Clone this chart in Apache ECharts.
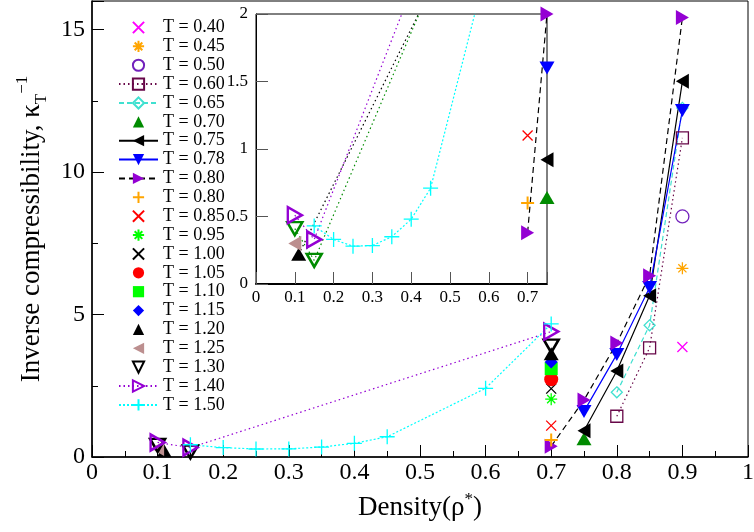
<!DOCTYPE html>
<html>
<head>
<meta charset="utf-8">
<script src="https://cdn.jsdelivr.net/npm/echarts@6/dist/echarts.min.js"></script>
<style>html,body{margin:0;padding:0;background:#fff;}#c{width:754px;height:532px;}</style>
</head>
<body>
<div id="c"></div>
<script>
// ---- data (density, inverse compressibility) ----
const T040 = [[0.90, 3.86]];
const T045 = [[0.90, 6.62]];
const T050 = [[0.90, 8.44]];
const T060 = [[0.80, 1.43], [0.85, 3.83], [0.90, 11.20]];
const T065 = [[0.80, 2.27], [0.85, 4.62], [0.90, 12.25]];
const T070 = [[0.75, 0.64]];
const T075 = [[0.75, 0.92], [0.80, 3.02], [0.85, 5.66], [0.90, 13.18]];
const T078 = [[0.75, 1.60], [0.80, 3.60], [0.85, 5.95], [0.90, 12.16]];
const T080a = [[0.70, 0.38], [0.75, 2.00], [0.80, 4.00], [0.85, 6.36], [0.90, 15.42]];
const T080b = [[0.70, 0.60]];
const T085 = [[0.70, 1.10]];
const T095 = [[0.70, 2.03]];
const T100 = [[0.70, 2.40]];
const T105 = [[0.70, 2.73]];
const T110 = [[0.70, 3.10]];
const T115 = [[0.70, 3.33]];
const T120 = [[0.11, 0.22], [0.70, 3.62]];
const T125 = [[0.10, 0.30]];
const T130 = [[0.10, 0.41], [0.15, 0.175], [0.70, 3.89]];
const T140 = [[0.10, 0.51], [0.15, 0.33], [0.70, 4.40]];
const T150 = [[0.15, 0.43], [0.20, 0.33], [0.25, 0.28], [0.30, 0.285], [0.35, 0.35], [0.40, 0.48], [0.45, 0.71], [0.60, 2.41], [0.70, 4.67]];

const legendNames = ['T = 0.40','T = 0.45','T = 0.50','T = 0.60','T = 0.65','T = 0.70','T = 0.75','T = 0.78',
  'T = 0.80#a','T = 0.80#b','T = 0.85','T = 0.95','T = 1.00','T = 1.05','T = 1.10','T = 1.15','T = 1.20',
  'T = 1.25','T = 1.30','T = 1.40','T = 1.50'];

const FONT = '"Liberation Serif","Times New Roman",serif';
const SYM = {
  x: 'path://M0,0L10,10M10,0L0,10',
  plus: 'path://M5,0L5,10M0,5L10,5',
  star: 'path://M5,0L5,10M0,5L10,5M1.6,1.6L8.4,8.4M8.4,1.6L1.6,8.4',
  up: 'path://M5,0L10,9L0,9Z',
  down: 'path://M0,0L10,0L5,9Z',
  left: 'path://M0,5L9,0L9,10Z',
  right: 'path://M0,0L9,5L0,10Z',
  diamond: 'path://M5,0L10,5L5,10L0,5Z',
  circle: 'circle',
  square: 'rect'
};

const specs = [
  {name: legendNames[0], data: T040, sym: 'x', c: '#ff00ff', kind: 'open', size: [10, 10], bw: 1.3},
  {name: legendNames[1], data: T045, sym: 'star', c: '#ffa500', kind: 'open', size: [12, 12], bw: 1.3},
  {name: legendNames[2], data: T050, sym: 'circle', c: '#7221bc', kind: 'open', size: [13, 13], bw: 1.3},
  {name: legendNames[3], data: T060, sym: 'square', c: '#670748', kind: 'open', size: [12, 12], bw: 1.3, line: {color: '#670748', type: [1.5, 3]}},
  {name: legendNames[4], data: T065, sym: 'diamond', c: '#40e0d0', kind: 'open', size: [11, 11], bw: 1.3, line: {color: '#40e0d0', type: [5, 3]}},
  {name: legendNames[5], data: T070, sym: 'up', c: '#008b00', kind: 'fill', size: [15, 13]},
  {name: legendNames[6], data: T075, sym: 'left', c: '#000000', kind: 'fill', size: [13, 15], line: {color: '#000000', type: 'solid'}},
  {name: legendNames[7], data: T078, sym: 'down', c: '#0000ff', kind: 'fill', size: [15, 13], line: {color: '#0000ff', type: 'solid'}},
  {name: legendNames[8], data: T080a, sym: 'right', c: '#9400d3', kind: 'fill', size: [13, 15], line: {color: '#000000', type: [6, 4]}},
  {name: legendNames[9], data: T080b, sym: 'plus', c: '#ffa500', kind: 'open', size: [13, 13], bw: 2},
  {name: legendNames[10], data: T085, sym: 'x', c: '#ff0000', kind: 'open', size: [10, 10], bw: 1.3},
  {name: legendNames[11], data: T095, sym: 'star', c: '#00ff00', kind: 'open', size: [12, 12], bw: 1.3},
  {name: legendNames[12], data: T100, sym: 'x', c: '#000000', kind: 'open', size: [10, 10], bw: 1.3},
  {name: legendNames[13], data: T105, sym: 'circle', c: '#ff0000', kind: 'fill', size: [14, 14]},
  {name: legendNames[14], data: T110, sym: 'square', c: '#00ff00', kind: 'fill', size: [13, 13]},
  {name: legendNames[15], data: T115, sym: 'diamond', c: '#0000ff', kind: 'fill', size: [13, 13]},
  {name: legendNames[16], data: T120, sym: 'up', c: '#000000', kind: 'fill', size: [15, 13]},
  {name: legendNames[17], data: T125, sym: 'left', c: '#bc8f8f', kind: 'fill', size: [13, 15]},
  {name: legendNames[18], data: T130, sym: 'down', c: '#000000', kind: 'open', size: [15, 13], bw: 2.5},
  {name: legendNames[19], data: T140, sym: 'right', c: '#9400d3', kind: 'open', size: [14, 16], bw: 2.5, line: {color: '#9400d3', type: [1.5, 3]}},
  {name: legendNames[20], data: T150, sym: 'plus', c: '#00ffff', kind: 'open', size: [15, 15], bw: 1.3, line: {color: '#00ffff', type: [2, 2]}}
];

// inset-specific styling
const insetOverride = {
  'T = 0.75': {line: null},
  'T = 0.78': {line: null},
  'T = 1.20': {line: {color: '#000000', type: [1.5, 3]}},
  'T = 1.30': {c: '#008b00', line: {color: '#008b00', type: [1.5, 3]}}
};

function makeSeries(s, ax, prefix) {
  return {
    type: 'line',
    name: prefix + s.name,
    data: s.data,
    xAxisIndex: ax, yAxisIndex: ax,
    symbol: SYM[s.sym],
    symbolSize: s.size,
    showSymbol: true,
    silent: true,
    animation: false,
    clip: true,
    itemStyle: s.kind === 'fill'
      ? {color: s.c, borderWidth: 0}
      : {color: 'rgba(255,255,255,0)', borderColor: s.c, borderWidth: s.bw},
    lineStyle: s.line
      ? {color: s.line.color, width: 1.2, type: s.line.type}
      : {width: 0, opacity: 0},
    emphasis: {disabled: true}
  };
}

const mainSeries = specs.map(s => makeSeries(s, 0, ''));
const insetSeries = specs.map(s => makeSeries(Object.assign({}, s, insetOverride[s.name] || {}), 2, 'inset '));

const tickLab = {fontFamily: FONT, color: '#000'};
const chart = echarts.init(document.getElementById('c'), null, {renderer: 'canvas'});
chart.setOption({
  animation: false,
  backgroundColor: '#fff',
  grid: [
    {left: 92, right: 6, top: 1, bottom: 75, show: true, borderColor: '#000', borderWidth: 1, outerBoundsMode: 'none'},
    {left: 256, right: 207, top: 14, bottom: 248, show: true, borderColor: '#000', borderWidth: 1, backgroundColor: '#fff', outerBoundsMode: 'none'}
  ],
  legend: {
    data: legendNames,
    orient: 'vertical',
    left: 113, top: 13.5,
    itemWidth: 39, itemHeight: 14, itemGap: 0.87,
    selectedMode: false,
    formatter: n => n.replace(/#.*$/, ''),
    textStyle: {fontFamily: FONT, fontSize: 18, color: '#000'}
  },
  xAxis: [
    {gridIndex: 0, type: 'value', min: 0, max: 1, interval: 0.1, position: 'bottom',
     axisLine: {onZero: false, lineStyle: {color: '#000', width: 1.5}},
     axisTick: {inside: true, length: 12, lineStyle: {color: '#000'}},
     splitLine: {show: false},
     axisLabel: Object.assign({fontSize: 24, margin: 4}, tickLab),
     name: '{a|Density(ρ}{s|*}{a|)}', nameLocation: 'middle', nameGap: 34,
     nameTextStyle: {rich: {
       a: {fontFamily: FONT, fontSize: 27, color: '#000', lineHeight: 34},
       s: {fontFamily: FONT, fontSize: 17, color: '#000', lineHeight: 16, verticalAlign: 'top'}
     }}},
    {gridIndex: 0, type: 'value', min: 0, max: 1, interval: 0.05, position: 'bottom',
     axisLine: {show: false}, axisLabel: {show: false}, splitLine: {show: false},
     axisTick: {inside: true, length: 6, lineStyle: {color: '#000'}}},
    {gridIndex: 1, type: 'value', min: 0, max: 0.75, interval: 0.1, position: 'bottom',
     axisLine: {onZero: false, lineStyle: {color: '#000', width: 2}},
     axisTick: {inside: true, length: 12, lineStyle: {color: '#555'}},
     splitLine: {show: false},
     axisLabel: Object.assign({fontSize: 17, margin: 5,
       formatter: v => Math.abs(v * 10 - Math.round(v * 10)) < 1e-6 ? String(Number(v.toFixed(1))) : ''}, tickLab)}
  ],
  yAxis: [
    {gridIndex: 0, type: 'value', min: 0, max: 16, interval: 5, position: 'left',
     axisLine: {onZero: false, lineStyle: {color: '#000', width: 1.5}},
     axisTick: {inside: true, length: 12, lineStyle: {color: '#000'}},
     splitLine: {show: false},
     axisLabel: Object.assign({fontSize: 24, margin: 7, formatter: v => (v % 5 === 0 ? String(v) : '')}, tickLab),
     name: '{a|Inverse compressibility, κ}{b|T}{c|−1}', nameLocation: 'middle', nameGap: 29, nameRotate: 90,
     nameTextStyle: {rich: {
       a: {fontFamily: FONT, fontSize: 27, color: '#000', lineHeight: 36},
       b: {fontFamily: FONT, fontSize: 17, color: '#000', lineHeight: 16, verticalAlign: 'bottom'},
       c: {fontFamily: FONT, fontSize: 17, color: '#000', lineHeight: 16, verticalAlign: 'top'}
     }}},
    {gridIndex: 0, type: 'value', min: 0, max: 16, interval: 2.5, position: 'left',
     axisLine: {show: false}, axisLabel: {show: false}, splitLine: {show: false},
     axisTick: {inside: true, length: 6, lineStyle: {color: '#000'}}},
    {gridIndex: 1, type: 'value', min: 0, max: 2, interval: 0.5, position: 'left',
     axisLine: {onZero: false, lineStyle: {color: '#000', width: 1}},
     axisTick: {inside: true, length: 12, lineStyle: {color: '#555'}},
     splitLine: {show: false},
     axisLabel: Object.assign({fontSize: 17, margin: 8}, tickLab)}
  ],
  series: mainSeries.concat(insetSeries)
});
</script>
</body>
</html>
